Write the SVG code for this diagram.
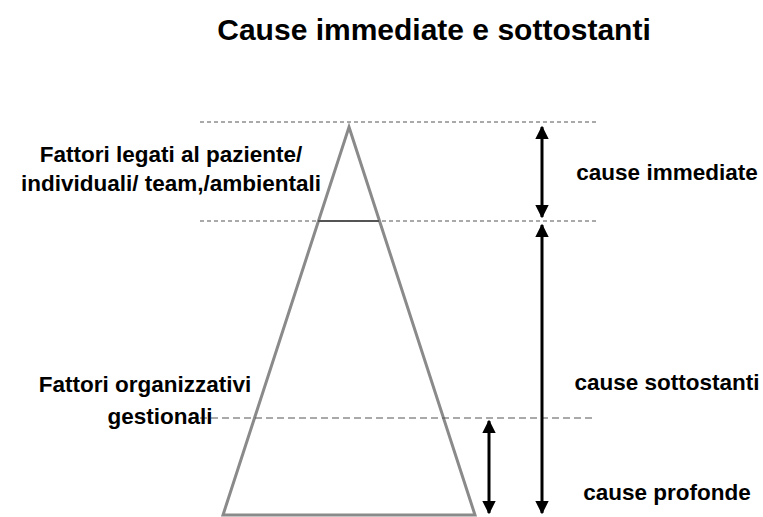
<svg xmlns="http://www.w3.org/2000/svg" width="763" height="517" viewBox="0 0 763 517">
<style>
text{font-family:"Liberation Sans",Arial,sans-serif;font-weight:bold;fill:#000}
.t{font-size:30px}
.l{font-size:22.5px}
.dash{stroke:#555;stroke-width:1;fill:none;stroke-dasharray:4 3}
.dash2{stroke:#555;stroke-width:1;fill:none;stroke-dasharray:7 4}
.arr{stroke:#000;stroke-width:3;fill:none;marker-start:url(#h);marker-end:url(#h)}
</style>
<defs>
<marker id="h" viewBox="0 0 10 10" refX="9" refY="5" markerWidth="4.5" markerHeight="4.5" orient="auto-start-reverse" markerUnits="strokeWidth">
<path d="M0,0L10,5L0,10z" fill="#000"/>
</marker>
</defs>
<rect width="763" height="517" fill="#fff"/>
<text class="t" x="434" y="40" text-anchor="middle">Cause immediate e sottostanti</text>
<g id="pyramid">
<polygon points="349,127 475,515 223,515" fill="none" stroke="#8a8a8a" stroke-width="3"/>
<line x1="318" y1="221" x2="379" y2="221" stroke="#555" stroke-width="2"/>
</g>
<g id="levels">
<line class="dash" x1="200" y1="122" x2="597" y2="122"/>
<line class="dash" x1="200" y1="221" x2="597" y2="221"/>
<line class="dash2" x1="200" y1="418" x2="595" y2="418"/>
</g>
<g id="connectors">
<line class="arr" x1="542" y1="127" x2="542" y2="217"/>
<line class="arr" x1="542" y1="225" x2="542" y2="513"/>
<line class="arr" x1="489" y1="421" x2="489" y2="513"/>
</g>
<g id="label-left-1">
<text class="l" x="171" y="162" text-anchor="middle">Fattori legati al paziente/</text>
<text class="l" x="171" y="191" text-anchor="middle">individuali/ team,/ambientali</text>
</g>
<g id="label-left-2">
<text class="l" x="145" y="392" text-anchor="middle">Fattori organizzativi</text>
<text class="l" x="160" y="424" text-anchor="middle">gestionali</text>
</g>
<g id="label-immediate"><text class="l" x="667" y="180" text-anchor="middle">cause immediate</text></g>
<g id="label-sottostanti"><text class="l" x="667" y="390" text-anchor="middle">cause sottostanti</text></g>
<g id="label-profonde"><text class="l" x="667" y="500" text-anchor="middle">cause profonde</text></g>
</svg>
